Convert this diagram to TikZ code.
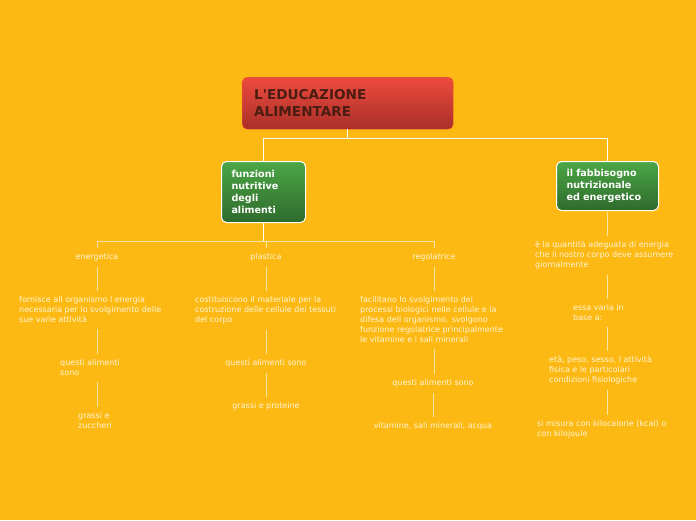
\documentclass[tikz,border=0pt]{standalone}
\usepackage{fontspec}
\setmainfont{DejaVu Sans}
\usepackage{xcolor}
\usepackage{tikz}

\definecolor{mapbg}{HTML}{FDB913}
\definecolor{linkcol}{HTML}{FCE6A4}
\definecolor{notecol}{HTML}{FFF4D6}
\definecolor{rootTop}{HTML}{EE4B3E}
\definecolor{rootBot}{HTML}{A92F28}
\definecolor{rootText}{HTML}{4A1C12}
\definecolor{topicTop}{HTML}{4CA646}
\definecolor{topicBot}{HTML}{2E6B2C}

\begin{document}
\begin{tikzpicture}[
   x=1pt, y=-1pt,
   rootbox/.style={rectangle, rounded corners=5pt, top color=rootTop,
               bottom color=rootBot, draw=rootTop!85!orange, anchor=north west,
               align=left, inner xsep=12pt, text=rootText,
               font=\fontsize{13.6}{17}\selectfont\bfseries},
   topic/.style={rectangle, rounded corners=5pt, top color=topicTop,
               bottom color=topicBot, draw=white, line width=1pt,
               anchor=north west, align=left, inner xsep=10pt, text=white,
               font=\fontsize{9.6}{12}\selectfont\bfseries},
   note/.style={inner sep=0pt, align=left, text=notecol,
               font=\fontsize{8}{10}\selectfont},
   tree/.style={draw=white, line width=0.9pt},
   link/.style={draw=linkcol, line width=0.9pt, shorten <=6pt, shorten >=5pt}
]
\fill[mapbg] (0,0) rectangle (696,520);
\useasboundingbox (0,0) rectangle (696,520);

% Root
\node[rootbox, minimum width=211pt, minimum height=52pt, text width=187pt]
     (root) at (242,77) {L\textquotesingle EDUCAZIONE\\ALIMENTARE};
% Main topics
\node[topic, minimum width=84pt, minimum height=61pt, text width=64pt]
     (fnut) at (221,161) {funzioni\\nutritive\\degli\\alimenti};
\node[topic, minimum width=102pt, minimum height=49pt, text width=82pt]
     (fabb) at (556,161) {il fabbisogno\\nutrizionale\\ed energetico};

\draw[tree] (root.south) -- ++(0,9) -| (fnut.north);
\draw[tree] (root.south) -- ++(0,9) -| (fabb.north);

% Functions of food
\node[note] (energ) at (97,257) {energetica};
\node[note] (plast) at (266,257) {plastica};
\node[note] (regol) at (434,257) {regolatrice};

\draw[tree] (fnut.south) -- ++(0,18) coordinate (fork);
\draw[link, shorten <=0pt] (fork) -| (energ.north);
\draw[link, shorten <=0pt] (fork) -| (plast.north);
\draw[link, shorten <=0pt] (fork) -| (regol.north);

% energetica
\node[note, anchor=north west] (forn) at (19,296)
     {fornisce all organismo l energia\\necessaria per lo svolgimento delle\\sue varie attività};
\node[note, anchor=north west] (qas1) at (60,359) {questi alimenti\\sono};
\node[note, anchor=north west] (gz) at (78,412) {grassi e\\zuccheri};
\draw[link] (energ) -- (forn.north -| energ);
\draw[link] (forn.south -| energ) -- (qas1.north -| energ);
\draw[link] (qas1.south -| energ) -- (gz.north -| energ);

% plastica
\node[note, anchor=north west] (cost) at (195,296)
     {costituiscono il materiale per la\\costruzione delle cellule dei tessuti\\del corpo};
\node[note] (qas2) at (266,363) {questi alimenti sono};
\node[note] (gp) at (266,406) {grassi e proteine};
\draw[link] (plast) -- (cost.north -| plast);
\draw[link] (cost.south -| plast) -- (qas2.north -| plast);
\draw[link] (qas2) -- (gp);

% regolatrice
\node[note, anchor=north west] (facil) at (360,296)
     {facilitano lo svolgimento dei\\processi biologici nelle cellule e la\\difesa dell organismo. svolgono\\funzione regolatrice principalmente\\le vitamine e i sali minerali};
\node[note] (qas3) at (433,383) {questi alimenti sono};
\node[note] (vsa) at (433,426) {vitamine, sali minerali, acqua};
\draw[link] (regol) -- (facil.north -| regol);
\draw[link] (facil.south -| regol) -- (qas3.north -| regol);
\draw[link] (qas3) -- (vsa);

% Energy requirement
\node[note, anchor=north west] (quant) at (535,241)
     {è la quantità adeguata di energia\\che il nostro corpo deve assumere\\giornalmente};
\node[note, anchor=north west] (varia) at (573,304) {essa varia in\\base a:};
\node[note, anchor=north west] (eta) at (549,356)
     {età, peso, sesso, l attività\\fisica e le particolari\\condizioni fisiologiche};
\node[note, anchor=north west] (misura) at (537,420)
     {si misura con kilocalorie (kcal) o\\con kilojoule};
\draw[link, shorten <=1pt] (fabb) -- (quant.north -| fabb);
\draw[link] (quant.south -| fabb) -- (varia.north -| fabb);
\draw[link] (varia.south -| fabb) -- (eta.north -| fabb);
\draw[link] (eta.south -| fabb) -- (misura.north -| fabb);
\end{tikzpicture}
\end{document}
